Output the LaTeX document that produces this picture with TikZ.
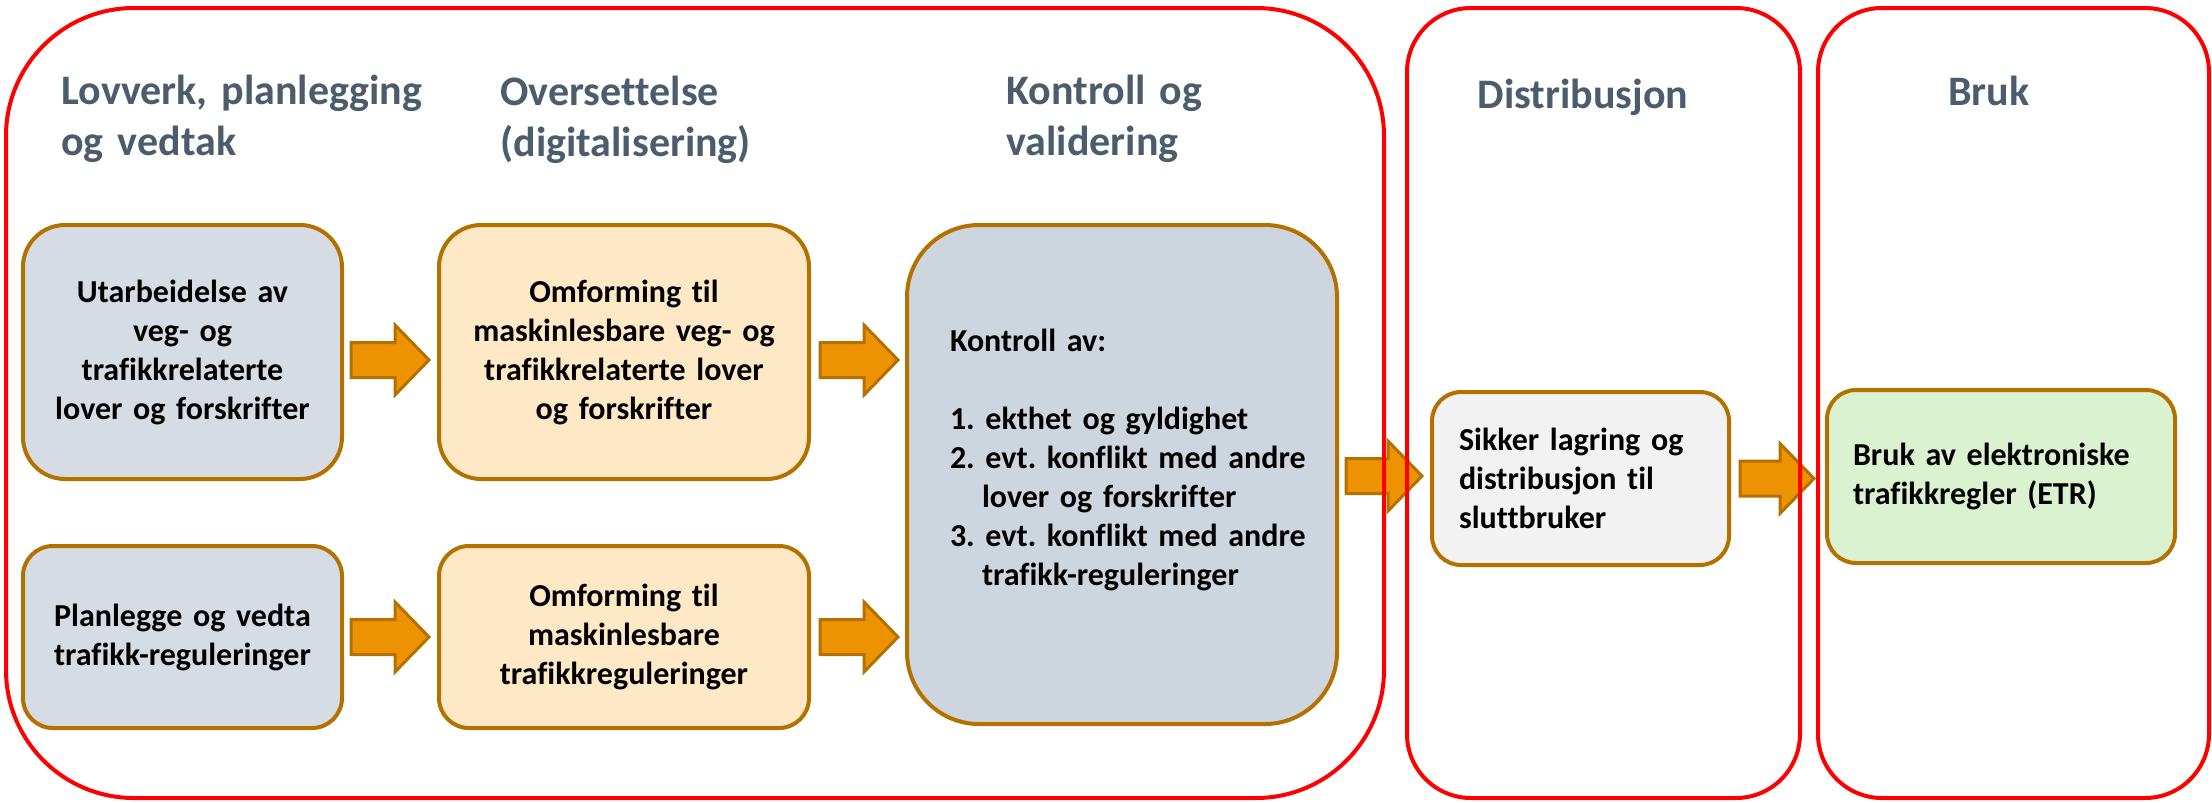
\documentclass[tikz,border=0pt]{standalone}
\usepackage{fontspec}
\setmainfont{Carlito}[Ligatures=NoCommon]
\usetikzlibrary{calc}

\definecolor{rammerod}{RGB}{255,0,0}
\definecolor{kantbrun}{RGB}{180,113,0}
\definecolor{pilorange}{RGB}{237,146,0}
\definecolor{titgra}{RGB}{75,93,108}
\definecolor{blagra}{RGB}{214,220,228}
\definecolor{kontrollgra}{RGB}{205,213,222}
\definecolor{lysorange}{RGB}{254,232,198}
\definecolor{lysgra}{RGB}{242,242,242}
\definecolor{lysgronn}{RGB}{219,242,208}

\tikzset{
  fase/.style={draw=rammerod, line width=2pt},
  boks/.style={draw=kantbrun, line width=2pt, inner sep=0pt, align=center,
    font=\bfseries\fontsize{16}{19.5}\selectfont},
  tittel/.style={text=titgra, inner sep=0pt, align=left,
    font=\bfseries\fontsize{21}{25.5}\selectfont},
  pil/.style={fill=pilorange, draw=kantbrun, line width=1.5pt}
}

% blokkpil fra et punkt til et annet (samme hoyde)
\newcommand{\blokkpil}[2]{%
  \filldraw[pil] let \p1=(#1), \p2=(#2) in
    (\x1,\y1-8.75pt) -- (\x2-17pt,\y1-8.75pt) -- (\x2-17pt,\y1-17.5pt) -- (\x2,\y1)
    -- (\x2-17pt,\y1+17.5pt) -- (\x2-17pt,\y1+8.75pt) -- (\x1,\y1+8.75pt) -- cycle;}

\begin{document}
\begin{tikzpicture}[x=0.5pt, y=-0.5pt]
  \useasboundingbox (0,0) rectangle (2212,803);

  % --- Overskrifter ---
  \node[tittel, text width=200pt, anchor=base west] (lovverk) at (61,104) {Lovverk, planlegging\\og vedtak};
  \node[tittel, text width=200pt, anchor=base west] (oversett) at (500,105) {Oversettelse\\(digitalisering)};
  \node[tittel, text width=200pt, anchor=base west] (kontrolltit) at (1006,104) {Kontroll og\\validering};
  \node[tittel, anchor=base] (distrib) at (1583,108) {Distribusjon};
  \node[tittel, anchor=base] (bruktit) at (1989,105) {Bruk};

  % --- Bokser ---
  \node[boks, fill=blagra, minimum width=159.5pt, minimum height=127pt, rounded corners=21pt,
    text width=150pt] (utarb) at (182.5,352)
    {Utarbeidelse av\\veg- og\\trafikkrelaterte\\lover og forskrifter};
  \node[boks, fill=lysorange, minimum width=185pt, minimum height=127pt, rounded corners=21pt,
    text width=175pt] (omf1) at (624,352)
    {Omforming til\\maskinlesbare veg- og\\trafikkrelaterte lover\\og forskrifter};
  \node[boks, fill=blagra, minimum width=159.5pt, minimum height=91pt, rounded corners=15pt,
    text width=150pt] (plan) at (182.5,637)
    {Planlegge og vedta\\trafikk-reguleringer};
  \node[boks, fill=lysorange, minimum width=185pt, minimum height=91pt, rounded corners=15pt,
    text width=175pt] (omf2) at (624,637)
    {Omforming til\\maskinlesbare\\trafikkreguleringer};
  \node[boks, fill=kontrollgra, minimum width=215pt, minimum height=249.5pt, rounded corners=36pt]
    (kontroll) at (1122,474.5) {};
  \node[boks, draw=none, align=left, text width=190pt, anchor=base west] (kontrolltxt) at (948,351)
    {Kontroll av:\\[19.5pt]
     1.\ ekthet og gyldighet\\
     2.\ evt.\ konflikt med andre\\
     \hspace*{16pt}lover og forskrifter\\
     3.\ evt.\ konflikt med andre\\
     \hspace*{16pt}trafikk-reguleringer};
  \node[boks, fill=lysgra, align=left, minimum width=148.5pt, minimum height=86.5pt,
    rounded corners=14.5pt, text width=121.5pt] (sikker) at (1580.5,478.5)
    {Sikker lagring og\\distribusjon til\\sluttbruker};
  \node[boks, fill=lysgronn, align=left, minimum width=174pt, minimum height=86.5pt,
    rounded corners=14.5pt, text width=148pt] (bruk) at (2001,476.5)
    {Bruk av elektroniske\\trafikkregler (ETR)};

  % --- Piler ---
  \coordinate (p1s) at ($(utarb.east)+(7,8)$);
  \coordinate (p1e) at ($(omf1.west)+(-8,8)$);
  \coordinate (p2s) at ($(omf1.east)+(9,8)$);
  \coordinate (p2e) at ($(kontroll.west)+(-7,0)$);
  \coordinate (p3s) at ($(plan.east)+(7,0)$);
  \coordinate (p3e) at ($(omf2.west)+(-8,0)$);
  \coordinate (p4s) at ($(omf2.east)+(9,0)$);
  \coordinate (p4e) at ($(kontroll.west)+(-7,0)$);
  \coordinate (p5s) at ($(kontroll.east)+(7,1.5)$);
  \coordinate (p5e) at ($(sikker.west)+(-8,0)$);
  \coordinate (p6s) at ($(sikker.east)+(9,0)$);
  \coordinate (p6e) at ($(bruk.west)+(-11,0)$);
  \blokkpil{p1s}{p1e}
  \blokkpil{p2s}{p2e}
  \blokkpil{p3s}{p3e}
  \blokkpil{p4s}{p4e}
  \blokkpil{p5s}{p5e}
  \blokkpil{p6s}{p6e}

  % --- Faserammer ---
  \draw[fase, rounded corners=64pt] (6,8) rectangle (1384,798);
  \draw[fase, rounded corners=32pt] (1407,8) rectangle (1800,798);
  \draw[fase, rounded corners=32pt] (1818,8) rectangle (2209,798);
\end{tikzpicture}
\end{document}
